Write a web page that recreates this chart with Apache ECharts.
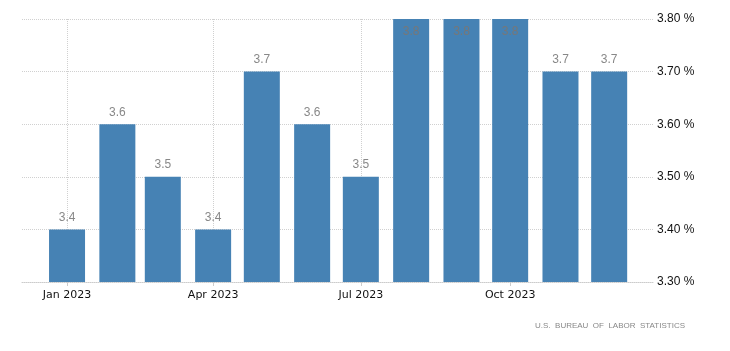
<!DOCTYPE html>
<html>
<head>
<meta charset="utf-8">
<script src="https://cdn.jsdelivr.net/npm/echarts@6/dist/echarts.min.js"></script>
<style>
  html, body { margin: 0; padding: 0; background: #fff; }
  #chart { width: 730px; height: 351px; }
</style>
</head>
<body>
<div id="chart"></div>
<script>
// monthly data, 2023
const months = ["2023-01-01", "2023-02-01", "2023-03-01", "2023-04-01", "2023-05-01", "2023-06-01",
  "2023-07-01", "2023-08-01", "2023-09-01", "2023-10-01", "2023-11-01", "2023-12-01"];
const rates = [3.4, 3.6, 3.5, 3.4, 3.7, 3.6, 3.5, 3.8, 3.8, 3.8, 3.7, 3.7];
const monthNames = ["Jan", "Feb", "Mar", "Apr", "May", "Jun", "Jul", "Aug", "Sep", "Oct", "Nov", "Dec"];
const yMin = 3.3;
const yMax = 3.8;
const sourceText = "U.S.  BUREAU  OF  LABOR  STATISTICS";

const DAY = 24 * 3600 * 1000;
const GRID = { left: 22, right: 77, top: 19, bottom: 69 };
const BAR_W = 36;

// visible time range of the x axis
const viewStart = +new Date(2022, 11, 4, 6);
const viewEnd = +new Date(2023, 11, 28);
// echarts widens a time axis so bars fit, so hand it a narrower range
const plotW = 730 - GRID.left - GRID.right;
const pad = (viewEnd - viewStart) * (BAR_W / plotW) / 2;

const chart = echarts.init(document.getElementById("chart"), null, { renderer: "canvas" });

const seriesData = months.map((m, i) => {
  const item = { value: [m, rates[i]] };
  // bars that hit the top get their label inside
  if (rates[i] >= yMax) {
    item.label = { position: "insideTop", distance: 7, color: "#777" };
  }
  return item;
});

const option = {
  animation: false,
  textStyle: { fontFamily: "Liberation Sans, Arial, sans-serif" },
  grid: GRID,
  title: {
    text: sourceText,
    right: 40,
    bottom: 16,
    textStyle: { fontSize: 8, fontWeight: "normal", color: "#888", fontFamily: "Liberation Sans, sans-serif" }
  },
  xAxis: {
    type: "time",
    min: viewStart + pad,
    max: viewEnd - pad,
    // quarterly ticks
    minInterval: 100 * DAY,
    maxInterval: 100 * DAY,
    axisLine: { show: true, lineStyle: { color: "#ccc", type: "dotted" } },
    axisTick: { show: true, length: 4, lineStyle: { color: "#ccc" } },
    splitLine: {
      show: true,
      showMinLine: false,
      showMaxLine: false,
      lineStyle: { color: "#d0d0d0", type: "dotted" }
    },
    axisLabel: {
      showMinLabel: false,
      showMaxLabel: false,
      color: "#111",
      fontSize: 11,
      fontFamily: "DejaVu Sans, sans-serif",
      margin: 8,
      formatter: function (val) {
        const d = new Date(val);
        return monthNames[d.getMonth()] + " " + d.getFullYear();
      }
    }
  },
  yAxis: {
    type: "value",
    position: "right",
    min: yMin,
    max: yMax,
    interval: 0.1,
    axisLine: { show: false },
    axisTick: { show: false },
    splitLine: { show: true, lineStyle: { color: "#d0d0d0", type: "dotted" } },
    axisLabel: {
      color: "#111",
      fontSize: 12,
      margin: 4,
      fontFamily: "Liberation Sans Narrow, Liberation Sans, sans-serif",
      formatter: (v) => v.toFixed(2) + " %"
    }
  },
  series: [{
    type: "bar",
    data: seriesData,
    barWidth: BAR_W,
    itemStyle: { color: "#4682b4" },
    label: {
      show: true,
      position: "top",
      distance: 6,
      color: "#888",
      fontSize: 12,
      formatter: (p) => p.value[1].toFixed(1)
    }
  }]
};

chart.setOption(option);
</script>
</body>
</html>
